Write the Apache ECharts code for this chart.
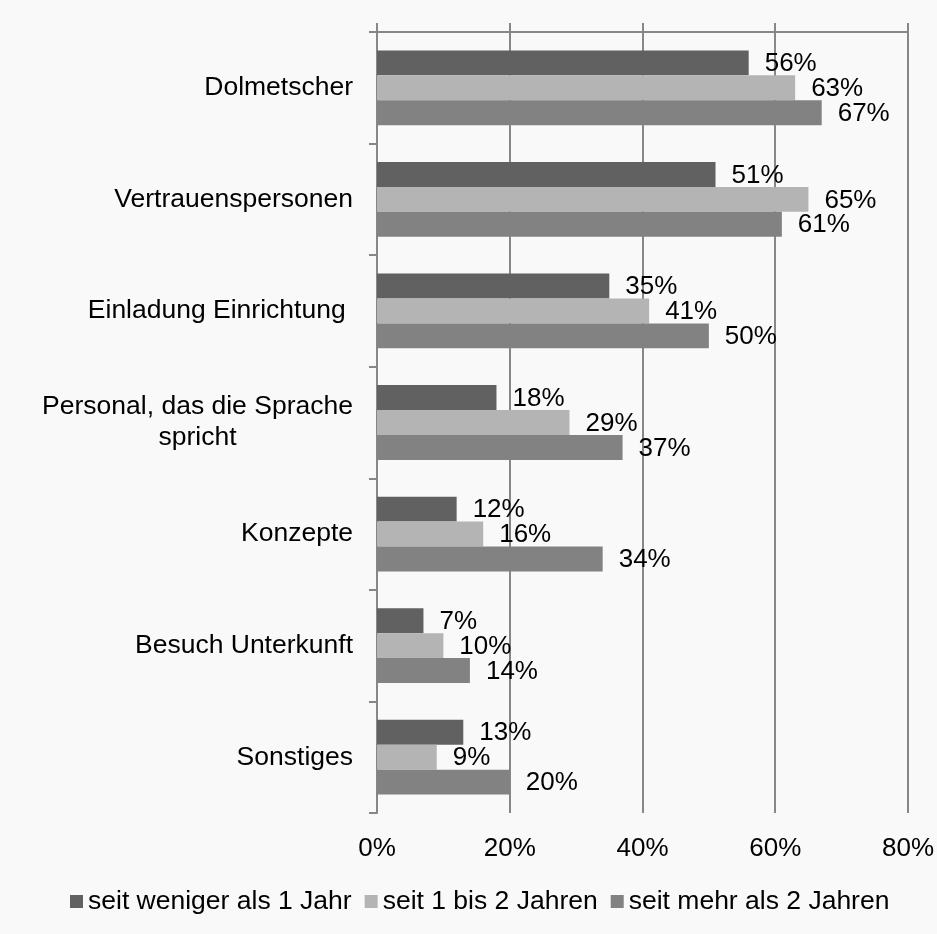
<!DOCTYPE html>
<html>
<head>
<meta charset="utf-8">
<title>Bar chart</title>
<script src="https://cdn.jsdelivr.net/npm/echarts@6/dist/echarts.min.js"></script>
<style>
  html, body { margin: 0; padding: 0; background: #f9f9f9; }
  #chart { width: 937px; height: 934px; }
</style>
</head>
<body>
<div id="chart"></div>
<script>
// categories (top to bottom)
const categories = [
  'Dolmetscher',
  'Vertrauenspersonen',
  'Einladung Einrichtung ',
  'Personal, das die Sprache\nspricht',
  'Konzepte',
  'Besuch Unterkunft',
  'Sonstiges'
]

const seriesNames = ['seit weniger als 1 Jahr', 'seit 1 bis 2 Jahren', 'seit mehr als 2 Jahren']

// values in percent
const lessThan1Year = [56, 51, 35, 18, 12, 7, 13]
const oneToTwoYears = [63, 65, 41, 29, 16, 10, 9]
const moreThan2Years = [67, 61, 50, 37, 34, 14, 20]

const xTicks = [0, 20, 40, 60, 80]

const colors = ['#616161', '#b4b4b4', '#828282']
const FONT = '"Liberation Sans", Arial, sans-serif'
const gridColor = '#878787'

const chart = echarts.init(document.getElementById('chart'))

// category labels: multi-line label gets its lines centered
const catLabel = (value) => {
  if (value.indexOf('\n') >= 0) {
    return value.split('\n').map(s => '{c|' + s + '}').join('\n')
  }
  return value
}

const barSeries = (name, data, color) => ({
  name: name,
  type: 'bar',
  xAxisIndex: 0,
  data: data,
  barGap: 0,
  barCategoryGap: '33%',
  itemStyle: { color: color },
  label: {
    show: true,
    position: 'right',
    distance: 16,
    formatter: '{c}%',
    color: '#000',
    fontSize: 26,
    fontFamily: FONT,
    offset: [0, 1]
  }
})

const option = {
  backgroundColor: '#f9f9f9',
  animation: false,
  grid: { left: 377, right: 29, top: 32, bottom: 121, containLabel: false },
  legend: {
    bottom: 14,
    left: 65,
    icon: 'rect',
    itemWidth: 13,
    itemHeight: 13,
    itemGap: 13,
    textStyle: { color: '#000', fontSize: 26.5, fontFamily: FONT },
    data: seriesNames
  },
  xAxis: [
    {
      type: 'value',
      position: 'bottom',
      min: xTicks[0],
      max: xTicks[xTicks.length - 1],
      interval: 20,
      axisLine: { show: false },
      axisTick: { show: false },
      axisLabel: {
        margin: 23,
        color: '#000',
        fontSize: 26,
        fontFamily: FONT,
        formatter: '{value}%'
      },
      splitLine: { show: true, lineStyle: { color: gridColor, width: 2 } }
    },
    {
      // value axis line sits on top of the plot, labels are at the bottom
      type: 'value',
      position: 'top',
      min: xTicks[0],
      max: xTicks[xTicks.length - 1],
      interval: 20,
      axisLine: { show: true, lineStyle: { color: gridColor, width: 2 } },
      axisTick: { show: true, length: 9, lineStyle: { color: gridColor, width: 2 } },
      axisLabel: { show: false },
      splitLine: { show: false }
    }
  ],
  yAxis: {
    type: 'category',
    inverse: true,
    data: categories,
    axisLine: { show: true, lineStyle: { color: gridColor, width: 2 } },
    axisTick: { show: true, length: 8, lineStyle: { color: gridColor, width: 2 } },
    axisLabel: {
      margin: 24,
      color: '#000',
      fontSize: 26.5,
      fontFamily: FONT,
      lineHeight: 31,
      formatter: catLabel,
      rich: {
        c: { width: 311, align: 'center', fontSize: 26.5, fontFamily: FONT, color: '#000', lineHeight: 31 }
      }
    },
    splitLine: { show: false }
  },
  series: [
    barSeries(seriesNames[0], lessThan1Year, colors[0]),
    barSeries(seriesNames[1], oneToTwoYears, colors[1]),
    barSeries(seriesNames[2], moreThan2Years, colors[2])
  ]
}

chart.setOption(option)
</script>
</body>
</html>
